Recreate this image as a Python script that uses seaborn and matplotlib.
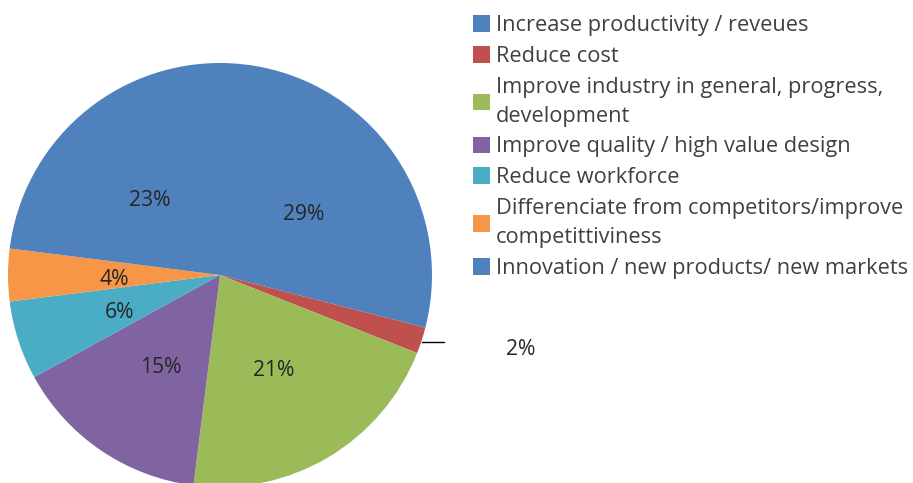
import matplotlib
matplotlib.use("Agg")
import matplotlib.pyplot as plt
import seaborn as sns
import numpy as np

categories = [
    "Increase productivity / reveues",
    "Reduce cost",
    "Improve industry in general, progress,\ndevelopment",
    "Improve quality / high value design",
    "Reduce workforce",
    "Differenciate from competitors/improve\ncompetittiviness",
    "Innovation / new products/ new markets",
]
values = [29, 2, 21, 15, 6, 4, 23]
colors = ["#4F81BD", "#C0504D", "#9BBB59", "#8064A2", "#4BACC6", "#F79646", "#4F81BD"]

sns.set_theme(style="white")
plt.rcParams["font.family"] = ["Open Sans", "DejaVu Sans"]

W, H = 913, 483
fig = plt.figure(figsize=(W / 100, H / 100), dpi=100)
cx, cy, r = 220, 275, 212
ax = fig.add_axes([(cx - r) / W, (H - cy - r) / H, 2 * r / W, 2 * r / H])

wedges, texts = ax.pie(values, colors=colors, startangle=90, counterclock=False,
                       wedgeprops=dict(linewidth=0), labels=None)
ax.set_xlim(-1, 1)
ax.set_ylim(-1, 1)
ax.set_aspect("equal")
ax.axis("off")

txtcol = "#262626"
lab_fs = 15.2
dy = -0.022
for w, v in zip(wedges, values):
    mid = np.deg2rad((w.theta1 + w.theta2) / 2)
    if v < 3:
        x0, y0 = 0.99 * np.cos(mid), 0.99 * np.sin(mid)
        ax.plot([x0 + 0.01, x0 + 0.115], [y0 - 0.01, y0 - 0.01], color="#000000", lw=1, clip_on=False)
        ax.text(x0 + 0.475, y0 - 0.045, f"{v}%", ha="center", va="center", fontsize=lab_fs,
                color=txtcol, clip_on=False)
    else:
        ax.text(0.5 * np.cos(mid), 0.5 * np.sin(mid) + dy, f"{v}%", ha="center", va="center",
                fontsize=lab_fs, color=txtcol)

leg = fig.legend(wedges, categories, loc="upper left", bbox_to_anchor=(473 / W, 1 - 15 / H),
                 frameon=False, fontsize=15.7, handlelength=0.8, handleheight=0.8,
                 handletextpad=0.25, labelspacing=0.45, borderaxespad=0, borderpad=0)
for t in leg.get_texts():
    t.set_color("#404040")
    t.set_linespacing(1.5)

fig.savefig("out.png", dpi=100)
